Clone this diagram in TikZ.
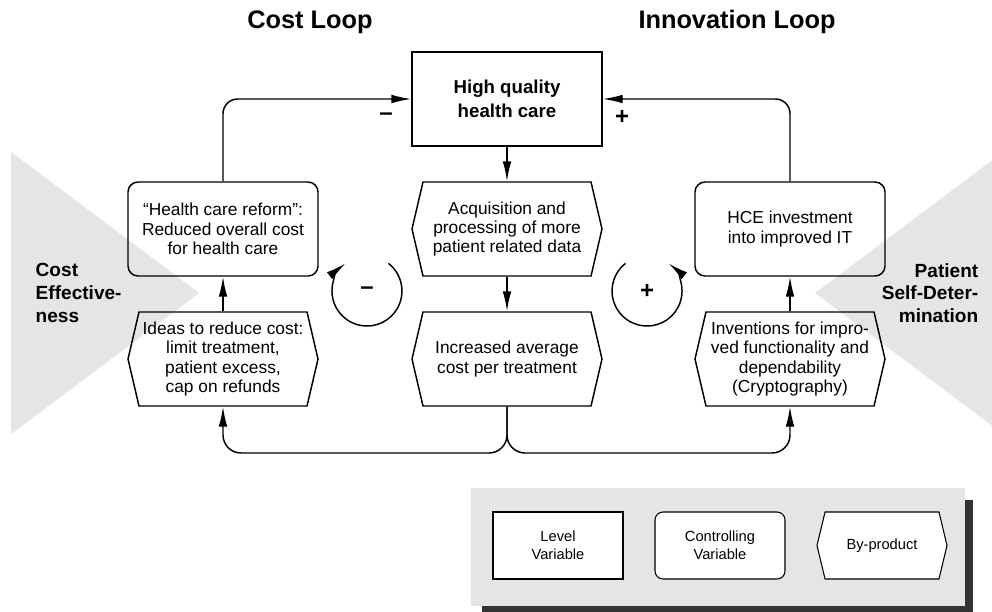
\documentclass[tikz,border=0pt]{standalone}
\usepackage{fontspec}
\setmainfont{Liberation Sans}
\usetikzlibrary{arrows.meta,shapes.symbols}

\begin{document}
\begin{tikzpicture}[x=0.75pt,y=-0.75pt,line width=1.1pt,
		>={Latex[length=15pt,width=6.5pt]},
		txt/.style={font=\fontsize{13}{14.5}\selectfont,align=center},
		levelbox/.style={txt,draw,minimum width=142.5pt,minimum height=70.5pt},
		ctrlbox/.style={levelbox,rounded corners=7.5pt},
		hexbox/.style={txt,draw,signal,signal to=west and east,signal pointer angle=153.7,
			minimum width=142.5pt,minimum height=70.5pt,inner xsep=1pt},
		keytxt/.style={font=\fontsize{11}{13.5}\selectfont,align=center,fill=white,line width=0.8pt,
			minimum width=97.5pt,minimum height=50.25pt},
		sign/.style={font=\fontsize{18}{18}\selectfont\bfseries,inner sep=0pt},
		side/.style={font=\fontsize{14.3}{17}\selectfont\bfseries,inner sep=0pt}]
		\useasboundingbox (0,0) rectangle (992,611);
		% grey wedges behind the loops
		\fill[black!10] (11,152)--(199,293)--(11,434)--cycle;
		\fill[black!10] (1003,152)--(815,293)--(1003,434)--cycle;
		\node[side,anchor=west,align=left] (costeff) at (35,293) {Cost\\Effective-\\ness};
		\node[side,anchor=east,align=right] (selfdet) at (979,293) {Patient\\Self-Deter-\\mination};
		
		\node[font=\fontsize{19}{19}\selectfont\bfseries,anchor=base] (costloop) at (310,28) {Cost Loop};
		\node[font=\fontsize{19}{19}\selectfont\bfseries,anchor=base] (innoloop) at (737,28) {Innovation Loop};
		
		\node[levelbox,font=\fontsize{14}{18}\selectfont\bfseries] (quality) at (507,99) {High quality\\health care};
		\node[ctrlbox] (reform) at (223,229) {“Health care reform”:\\Reduced overall cost\\for health care};
		\node[hexbox] (acquis) at (507,229) {Acquisition and\\processing of more\\patient related data};
		\node[ctrlbox] (invest) at (790,229) {HCE investment\\into improved IT};
		\node[hexbox] (ideas) at (223,359) {Ideas to reduce cost:\\limit treatment,\\patient excess,\\cap on refunds};
		\node[hexbox] (avgcost) at (507,359) {Increased average\\cost per treatment};
		\node[hexbox] (invent) at (790,359) {Inventions for impro-\\ved functionality and\\dependability\\(Cryptography)};
		
		\draw[->,rounded corners=11pt] (reform.north) |- (quality.west);
		\draw[->,rounded corners=11pt] (invest.north) |- (quality.east);
		\draw[->] (quality.south)--(acquis.north);
		\draw[->] (acquis.south)--(avgcost.north);
		\draw[->] (ideas.north)--(reform.south);
		\draw[->] (invent.north)--(invest.south);
		\coordinate (split) at (507,453);
		\draw[->,rounded corners=13.5pt] (avgcost.south)--(split) -| (ideas.south);
		\draw[->,rounded corners=13.5pt] (avgcost.south)--(split) -| (invent.south);
		
		\node[sign] (neg) at (386,117) {--};
		\node[sign] (pos) at (622,117) {+};
		% loop markers
		\node[sign] (minus) at (367,291) {--};
		\draw[->] (minus.center) ++(21.5,-27.6) arc[start angle=-52,end angle=232,radius=35];
		\node[sign] (plus) at (647,291) {+};
		\draw[->] (plus.center) ++(-21.5,-27.6) arc[start angle=-128,end angle=-412,radius=35];
		
		% legend
		\fill[black!80] (482,500) rectangle (973,620);
		\fill[black!10] (471,488) rectangle (965,606);
		\node[keytxt,draw] (levelkey) at (558,545.5) {Level\\Variable};
		\node[keytxt,draw,rounded corners=6pt] (ctrlkey) at (720,545.5) {Controlling\\Variable};
		\node[keytxt,draw,signal,signal to=west and east,signal pointer angle=153] (hexkey) at (882,545.5) {By-product};
	\end{tikzpicture}
\end{document}
